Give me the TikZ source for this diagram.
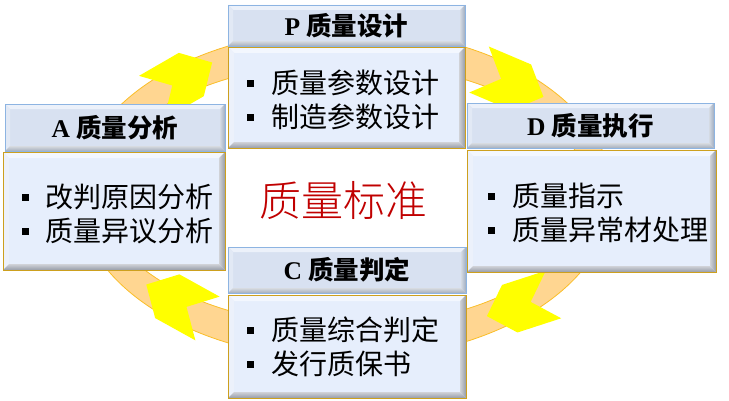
\documentclass[tikz,border=0pt]{standalone}
\usepackage{fontspec}
\setmainfont{Liberation Serif}
\newfontfamily\cjk{Noto Sans CJK SC}
\newfontfamily\cjklight{Noto Sans CJK SC Light}
\usetikzlibrary{calc}
\definecolor{ringfill}{RGB}{255,214,145}
\definecolor{ringedge}{RGB}{250,190,40}
\definecolor{arrowyellow}{RGB}{255,255,0}
\definecolor{hdrface}{RGB}{216,225,241}
\definecolor{hdrtop}{RGB}{236,241,250}
\definecolor{hdrleft}{RGB}{226,233,245}
\definecolor{hdrright}{RGB}{160,173,192}
\definecolor{hdrbottom}{RGB}{165,174,188}
\definecolor{hdredge}{RGB}{141,180,226}
\definecolor{bodyface}{RGB}{230,238,252}
\definecolor{bodytop}{RGB}{243,247,254}
\definecolor{bodyleft}{RGB}{236,241,251}
\definecolor{bodyright}{RGB}{150,156,166}
\definecolor{bodybottom}{RGB}{150,156,168}
\definecolor{bodyedge}{RGB}{205,160,30}
\definecolor{stdred}{RGB}{192,0,0}
\newcommand\bul{\raisebox{7pt}{\rule{6.8pt}{6.8pt}}\hspace{17pt}}
\tikzset{
  bevel/.style n args={5}{path picture={
    \coordinate (bnw) at (path picture bounding box.north west);
    \coordinate (bne) at (path picture bounding box.north east);
    \coordinate (bsw) at (path picture bounding box.south west);
    \coordinate (bse) at (path picture bounding box.south east);
    \fill[#2] (bnw) -- (bne) -- ([shift={(-#1,-#1)}]bne) -- ([shift={(#1,-#1)}]bnw) -- cycle;
    \fill[#3] (bnw) -- ([shift={(#1,-#1)}]bnw) -- ([shift={(#1,#1)}]bsw) -- (bsw) -- cycle;
    \shade[left color=#4!45!white, right color=#4] (bne) -- (bse) -- ([shift={(-#1,#1)}]bse) -- ([shift={(-#1,-#1)}]bne) -- cycle;
    \shade[top color=#5!45!white, bottom color=#5] (bsw) -- (bse) -- ([shift={(-#1,#1)}]bse) -- ([shift={(#1,#1)}]bsw) -- cycle;
  }},
  hdrbox/.style={draw=hdredge, line width=0.8pt, fill=hdrface, inner sep=0pt, outer sep=0pt,
    bevel={5}{hdrtop}{hdrleft}{hdrright}{hdrbottom},
    font=\fontsize{25.5}{30}\selectfont\bfseries},
  bodybox/.style={draw=bodyedge, line width=0.9pt, fill=bodyface, inner sep=0pt, outer sep=0pt,
    bevel={6}{bodytop}{bodyleft}{bodyright}{bodybottom}},
  bodytext/.style={anchor=west, align=left, inner sep=0pt, text=black,
    font=\cjk\fontsize{28}{34}\selectfont},
  chevron/.pic={\fill[arrowyellow] (0,25) -- (46,25) -- (70,0) -- (46,-25) -- (0,-25) -- (24,0) -- cycle;},
}
\begin{document}
\begin{tikzpicture}[x=1pt,y=1pt]
\useasboundingbox (0,0) rectangle (729,400);
% ring
\fill[ringfill, even odd rule] (345,205.5) ellipse [x radius=267, y radius=165]
  (345,205.5) ellipse [x radius=244, y radius=132];
\draw[ringedge, line width=0.8pt] (345,205.5) ellipse [x radius=267, y radius=165];
\draw[ringedge, line width=0.8pt] (345,205.5) ellipse [x radius=244, y radius=132];
% yellow chevrons
\pic[rotate=30] at (151.5,302.5) {chevron};
\pic[rotate=-23] at (479,330.5) {chevron};
\pic[rotate=198] at (553.5,105.5) {chevron};
\pic[rotate=151] at (207.5,81.5) {chevron};
% boxes
\node[bodybox, minimum width=237pt, minimum height=101pt] (Pbody) at (346.5,302.5) {};
\node[hdrbox, minimum width=237pt, minimum height=41pt] (Phead) at (346.5,374.5) {P {\cjk 质量设计}};
\node[bodybox, minimum width=222pt, minimum height=118pt] (Abody) at (114,189) {};
\node[hdrbox, minimum width=220pt, minimum height=47pt] (Ahead) at (115,272.5) {A {\cjk 质量分析}};
\node[bodybox, minimum width=249pt, minimum height=122pt] (Dbody) at (591.5,189) {};
\node[hdrbox, minimum width=247pt, minimum height=45pt] (Dhead) at (590.5,274.5) {D {\cjk 质量执行}};
\node[bodybox, minimum width=238pt, minimum height=103pt] (Cbody) at (347,53.5) {};
\node[hdrbox, minimum width=238pt, minimum height=46pt] (Chead) at (347,130) {C {\cjk 质量判定}};
% body texts
\node[bodytext] (Ptext) at (247,300) {\bul 质量参数设计\\ \bul 制造参数设计};
\node[bodytext] (Atext) at (22,186) {\bul 改判原因分析\\ \bul 质量异议分析};
\node[bodytext] (Dtext) at (488,187) {\bul 质量指示\\ \bul 质量异常材处理};
\node[bodytext] (Ctext) at (247,53) {\bul 质量综合判定\\ \bul 发行质保书};
% centre
\node[text=stdred, font=\cjklight\fontsize{42}{46}\selectfont, inner sep=0pt] (std) at (343,200) {质量标准};
\end{tikzpicture}
\end{document}
